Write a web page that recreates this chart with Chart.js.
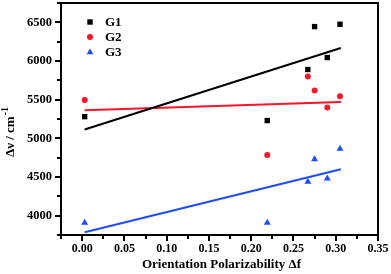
<!DOCTYPE html>
<html>
<head>
<meta charset="utf-8">
<script src="https://cdn.jsdelivr.net/npm/chart.js@4.4.0/dist/chart.umd.min.js"></script>
<style>
  html, body { margin: 0; padding: 0; background: #fff; }
  #wrap { width: 391px; height: 274px; }
</style>
</head>
<body>
<div id="wrap"><canvas id="myChart"></canvas></div>
<script>
// values
const polarity = [0.003, 0.219, 0.267, 0.275, 0.290, 0.305];
const g1 = [5280, 5230, 5890, 6445, 6045, 6475];
const g2 = [5495, 4785, 5800, 5620, 5400, 5545];
const g3 = [3910, 3910, 4440, 4730, 4480, 4865];

// fitted lines, two ends each
const fitX = [0.003, 0.306];
const fitG1 = [5114, 6168];
const fitG2 = [5363, 5470];
const fitG3 = [3785, 4600];

const groupNames = ['G1', 'G2', 'G3'];
const xTitle = 'Orientation Polarizability \u0394f';
const yTitle = '\u0394\u03bd / cm';
const ySup = '-1';

const RED = '#ff1428';
const BLUE = '#1c4cff';
const FONT = "'Liberation Serif', 'Times New Roman', serif";

// plot box inside the 391x274 canvas
const AREA = { left: 61, top: 3, right: 378, bottom: 235 };

function pts(xs, ys) {
  return xs.map((x, i) => ({ x: x, y: ys[i] }));
}

function isStep(v, step) {
  return Math.abs(Math.round(v / step) * step - v) < 1e-6;
}

// pin the plot box where the reference has it
const pinArea = {
  id: 'pinArea',
  afterLayout(chart) {
    const xs = chart.scales.x;
    const ys = chart.scales.y;
    const ca = chart.chartArea;
    ca.left = AREA.left; ca.right = AREA.right;
    ca.top = AREA.top; ca.bottom = AREA.bottom;
    ca.width = AREA.right - AREA.left;
    ca.height = AREA.bottom - AREA.top;

    xs.left = AREA.left; xs.right = AREA.right; xs.width = ca.width;
    xs.top = AREA.bottom; xs.bottom = chart.height; xs.height = chart.height - AREA.bottom;
    ys.left = 0; ys.right = AREA.left; ys.width = AREA.left;
    ys.top = AREA.top; ys.bottom = AREA.bottom; ys.height = ca.height;
    xs.configure();
    ys.configure();
  }
};

// frame, outward ticks, axis titles and legend
const decor = {
  id: 'decor',
  afterDraw(chart) {
    const c = chart.ctx;
    const a = chart.chartArea;
    const xs = chart.scales.x;
    const ys = chart.scales.y;
    c.save();
    c.fillStyle = '#000';
    // frame, 2px
    c.fillRect(a.left - 1, a.top - 1, a.right - a.left + 2, 2);
    c.fillRect(a.left - 1, a.bottom - 1, a.right - a.left + 2, 2);
    c.fillRect(a.left - 1, a.top - 1, 2, a.bottom - a.top + 2);
    c.fillRect(a.right - 1, a.top - 1, 2, a.bottom - a.top + 2);

    // outward ticks
    xs.ticks.forEach(t => {
      const px = Math.round(xs.getPixelForValue(t.value));
      const len = isStep(t.value, 0.05) ? 5 : 3;
      c.fillRect(px - 1, a.bottom, 2, len + 1);
    });
    ys.ticks.forEach(t => {
      const py = Math.round(ys.getPixelForValue(t.value));
      const len = isStep(t.value, 500) ? 5 : 3;
      c.fillRect(a.left - len - 1, py - 1, len + 1, 2);
    });

    // x title
    c.font = 'bold 13px ' + FONT;
    c.textAlign = 'center';
    c.textBaseline = 'middle';
    c.fillText(xTitle, (a.left + a.right) / 2 + 2, 265);

    // y title, rotated with superscript
    c.save();
    c.translate(13.5, 157);
    c.rotate(-Math.PI / 2);
    c.textAlign = 'left';
    c.textBaseline = 'alphabetic';
    c.font = 'bold 13px ' + FONT;
    c.fillText(yTitle, 0, 0);
    const w = c.measureText(yTitle).width;
    c.font = 'bold 10px ' + FONT;
    c.fillText(ySup, w + 1, -6);
    c.restore();

    // legend
    const colors = ['#000', RED, BLUE];
    c.font = 'bold 13px ' + FONT;
    c.textAlign = 'left';
    c.textBaseline = 'middle';
    groupNames.forEach((name, i) => {
      const mx = 90, my = 22 + i * 15;
      c.fillStyle = colors[i];
      c.beginPath();
      if (i === 0) {
        c.rect(mx - 2.7, my - 2.7, 5.4, 5.4);
      } else if (i === 1) {
        c.arc(mx, my, 3, 0, Math.PI * 2);
      } else {
        c.moveTo(mx, my - 3.6);
        c.lineTo(mx + 3.4, my + 2.2);
        c.lineTo(mx - 3.4, my + 2.2);
        c.closePath();
      }
      c.fill();
      c.fillStyle = '#000';
      c.fillText(name, 105, my + 1);
    });
    c.restore();
  }
};

const ctx = document.getElementById('myChart');

new Chart(ctx, {
  type: 'scatter',
  data: {
    datasets: [{
      label: 'G1',
      data: pts(polarity, g1),
      pointStyle: 'rect',
      pointRadius: 3.8,
      backgroundColor: '#000',
      borderWidth: 0
    }, {
      label: 'G2',
      data: pts(polarity, g2),
      pointStyle: 'circle',
      pointRadius: 3,
      backgroundColor: RED,
      borderWidth: 0
    }, {
      label: 'G3',
      data: pts(polarity, g3),
      pointStyle: 'triangle',
      pointRadius: 4,
      backgroundColor: BLUE,
      borderWidth: 0
    }, {
      label: 'fit G1',
      type: 'line',
      data: pts(fitX, fitG1),
      borderColor: '#000',
      borderWidth: 2,
      pointRadius: 0
    }, {
      label: 'fit G2',
      type: 'line',
      data: pts(fitX, fitG2),
      borderColor: RED,
      borderWidth: 2,
      pointRadius: 0
    }, {
      label: 'fit G3',
      type: 'line',
      data: pts(fitX, fitG3),
      borderColor: BLUE,
      borderWidth: 2,
      pointRadius: 0
    }]
  },
  options: {
    responsive: true,
    maintainAspectRatio: false,
    animation: false,
    plugins: {
      legend: { display: false },
      tooltip: { enabled: false }
    },
    scales: {
      x: {
        type: 'linear',
        min: -0.025,
        max: 0.35,
        grid: { display: false, drawTicks: false },
        border: { display: false },
        ticks: {
          stepSize: 0.025,
          padding: 7,
          color: '#000',
          maxRotation: 0,
          autoSkip: false,
          font: { family: FONT, size: 12, weight: 'bold' },
          callback: v => isStep(v, 0.05) ? v.toFixed(2) : ''
        }
      },
      y: {
        min: 3750,
        max: 6750,
        grid: { display: false, drawTicks: false },
        border: { display: false },
        ticks: {
          stepSize: 250,
          padding: 9,
          color: '#000',
          autoSkip: false,
          font: { family: FONT, size: 12.5, weight: 'bold' },
          callback: v => isStep(v, 500) ? String(v) : ''
        }
      }
    }
  },
  plugins: [pinArea, decor]
});
</script>
</body>
</html>
